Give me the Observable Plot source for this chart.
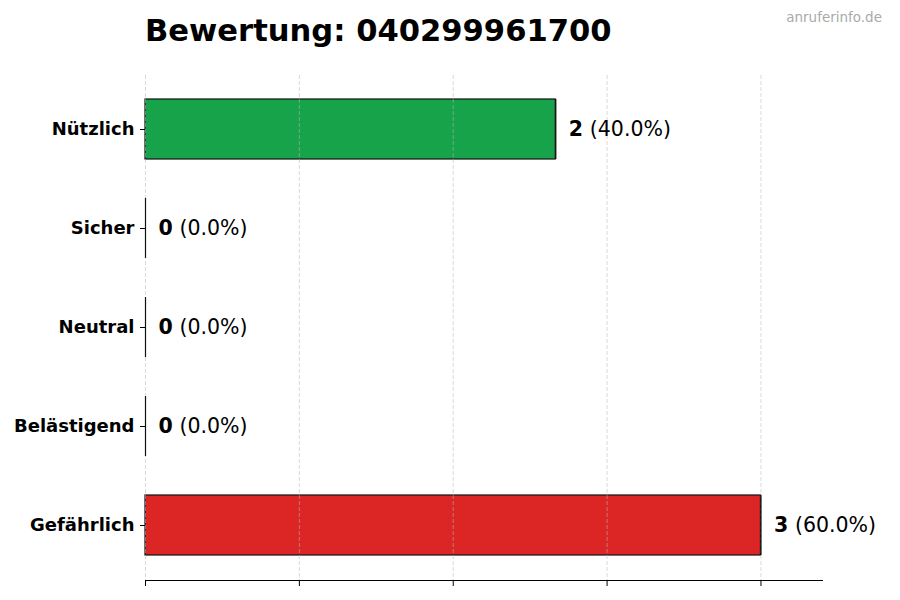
<!DOCTYPE html>
<html>
<head>
<meta charset="utf-8">
<script src="https://cdn.jsdelivr.net/npm/d3@7"></script>
<script src="https://cdn.jsdelivr.net/npm/@observablehq/plot@0.6"></script>
<style>
  body { margin: 0; background: #fff; font-family: "DejaVu Sans", sans-serif; }
  #wrap { position: relative; width: 900px; height: 600px; overflow: hidden; }
  #head { position: relative; height: 60px; }
  #title { position: absolute; left: 145px; top: 14px; font-size: 30.6px; line-height: 34px; font-weight: bold; color: #000; white-space: nowrap; }
  #mark { position: absolute; right: 18px; top: 9px; font-size: 13.5px; line-height: 16px; color: #aaaaaa; }
  svg { display: block; }
</style>
</head>
<body>
<div id="wrap">
  <div id="head">
    <div id="title">Bewertung: 040299961700</div>
    <div id="mark">anruferinfo.de</div>
  </div>
  <div id="chart"></div>
</div>
<script>
const categories = ["Nützlich", "Sicher", "Neutral", "Belästigend", "Gefährlich"];
const counts = [2, 0, 0, 0, 3];
const percents = [40.0, 0.0, 0.0, 0.0, 60.0];
const colors = ["#16a34a", "#2563eb", "#9ca3af", "#f59e0b", "#dc2626"];
const xTicks = [0, 0.75, 1.5, 2.25, 3];
const xMax = 3.3;

const rows = categories.map((c, i) => ({cat: c, n: counts[i], pct: percents[i], color: colors[i]}));

const chart = Plot.plot({
  width: 900,
  height: 540,
  marginTop: 15,
  marginBottom: 20,
  marginLeft: 145,
  marginRight: 78,
  style: {fontFamily: "DejaVu Sans", background: "#fff"},
  x: {domain: [0, xMax], axis: null, label: null},
  y: {domain: categories, paddingInner: 0.39, paddingOuter: 0.224, axis: null},
  marks: [
    Plot.barX(rows, {y: "cat", x1: 0, x2: "n", fill: "color", stroke: "#111", strokeWidth: 1.2}),
    Plot.ruleX(xTicks, {stroke: "#b8b8b8", strokeOpacity: 0.6, strokeWidth: 0.9, strokeDasharray: "4,2"}),
    Plot.tickX(rows, {y: "cat", x: "n", stroke: "#111", strokeWidth: 1.2}),
    Plot.frame({anchor: "bottom", stroke: "#000", strokeWidth: 1}),
    Plot.axisX(xTicks, {anchor: "bottom", tickSize: 6, tickFormat: () => "", label: null, stroke: "#000"}),
    Plot.axisY({anchor: "left", tickSize: 5, tickPadding: 6, fontSize: 18, fontWeight: "bold", fill: "#000", stroke: "#000", label: null}),
    Plot.text(rows, {y: "cat", x: "n", text: d => String(d.n), dx: 13, textAnchor: "start", fontWeight: "bold", fontSize: 20.5, fill: "#000"}),
    Plot.text(rows, {y: "cat", x: "n", text: d => `(${d.pct.toFixed(1)}%)`, dx: 34, textAnchor: "start", fontSize: 20.5, fill: "#000"})
  ]
});
document.getElementById("chart").appendChild(chart);
</script>
</body>
</html>
